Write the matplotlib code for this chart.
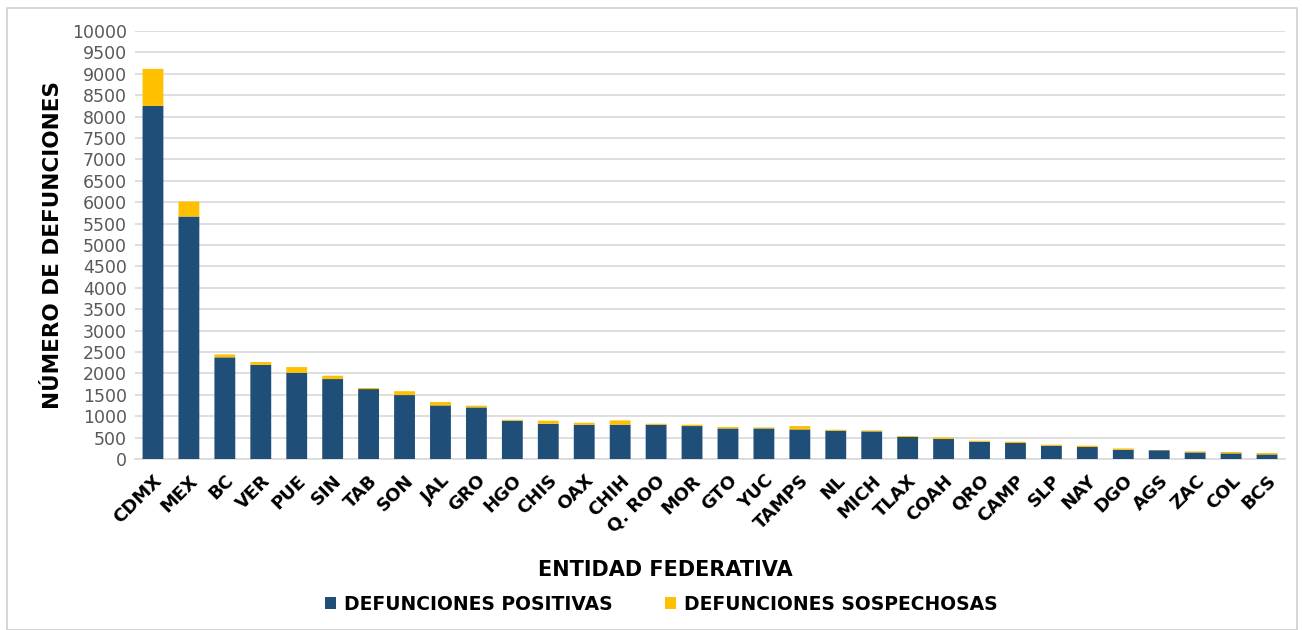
import matplotlib.pyplot as plt
from matplotlib.patches import Rectangle

# Datos por entidad federativa
entidades = ['CDMX', 'MEX', 'BC', 'VER', 'PUE', 'SIN', 'TAB', 'SON', 'JAL', 'GRO',
             'HGO', 'CHIS', 'OAX', 'CHIH', 'Q. ROO', 'MOR', 'GTO', 'YUC', 'TAMPS', 'NL',
             'MICH', 'TLAX', 'COAH', 'QRO', 'CAMP', 'SLP', 'NAY', 'DGO', 'AGS', 'ZAC',
             'COL', 'BCS']
positivas = [8250, 5665, 2375, 2200, 2015, 1868, 1634, 1494, 1252, 1205,
             894, 824, 801, 801, 801, 770, 714, 714, 691, 661,
             645, 514, 467, 404, 374, 311, 280, 217, 205, 154,
             131, 107]
sospechosas = [865, 350, 68, 65, 133, 77, 24, 90, 79, 40,
               24, 71, 47, 101, 23, 31, 33, 24, 79, 23,
               23, 23, 37, 23, 30, 23, 31, 30, 5, 23,
               32, 33]
ticks_y = list(range(0, 10001, 500))

azul = '#1F4E79'
amarillo = '#FFC000'

fig = plt.figure(figsize=(13.02, 6.3), dpi=100)
ax = fig.add_axes([135 / 1302, 1 - 459 / 630, 1150 / 1302, 428 / 630])

# Marco gris alrededor del grafico
fig.patches.append(Rectangle((7 / 1302, 0), 1290 / 1302, 622 / 630, transform=fig.transFigure,
                             fill=False, edgecolor='#D0D0D0', linewidth=1.2))

x = list(range(len(entidades)))
ax.bar(x, positivas, width=0.58, color=azul, edgecolor='none', snap=False,
       label='DEFUNCIONES POSITIVAS', zorder=3)
ax.bar(x, sospechosas, width=0.58, bottom=positivas, color=amarillo, edgecolor='none',
       snap=False, label='DEFUNCIONES SOSPECHOSAS', zorder=3)

ax.set_xlim(-0.5, len(entidades) - 0.5)
ax.set_ylim(0, 10000)
ax.set_yticks(ticks_y)
ax.set_yticklabels([str(t) for t in ticks_y], fontsize=12.5, color='#595959')
ax.set_xticks(x)
ax.set_xticklabels(entidades, rotation=45, ha='right', rotation_mode='anchor',
                   fontsize=13, fontweight='bold')
ax.tick_params(axis='x', length=0, pad=9)
ax.tick_params(axis='y', length=0, pad=6)
ax.grid(axis='y', color='#D9D9D9', linewidth=1.2, zorder=0)
for lado in ['top', 'right', 'left']:
    ax.spines[lado].set_visible(False)
ax.spines['bottom'].set_color('#D9D9D9')
ax.spines['bottom'].set_linewidth(1.2)

ax.set_ylabel('NÚMERO DE DEFUNCIONES', fontsize=15.5, fontweight='bold', labelpad=6)
fig.text(665 / 1302, 1 - 570 / 630, 'ENTIDAD FEDERATIVA', fontsize=15, fontweight='bold',
         ha='center', va='center')

fig.legend(loc='center', bbox_to_anchor=(661 / 1302, 1 - 604 / 630), ncol=2, frameon=False,
           prop={'size': 13.5, 'weight': 'bold'}, handlelength=0.6, handleheight=0.6,
           handletextpad=0.4, columnspacing=2.8)

plt.savefig('out.png', dpi=100)
